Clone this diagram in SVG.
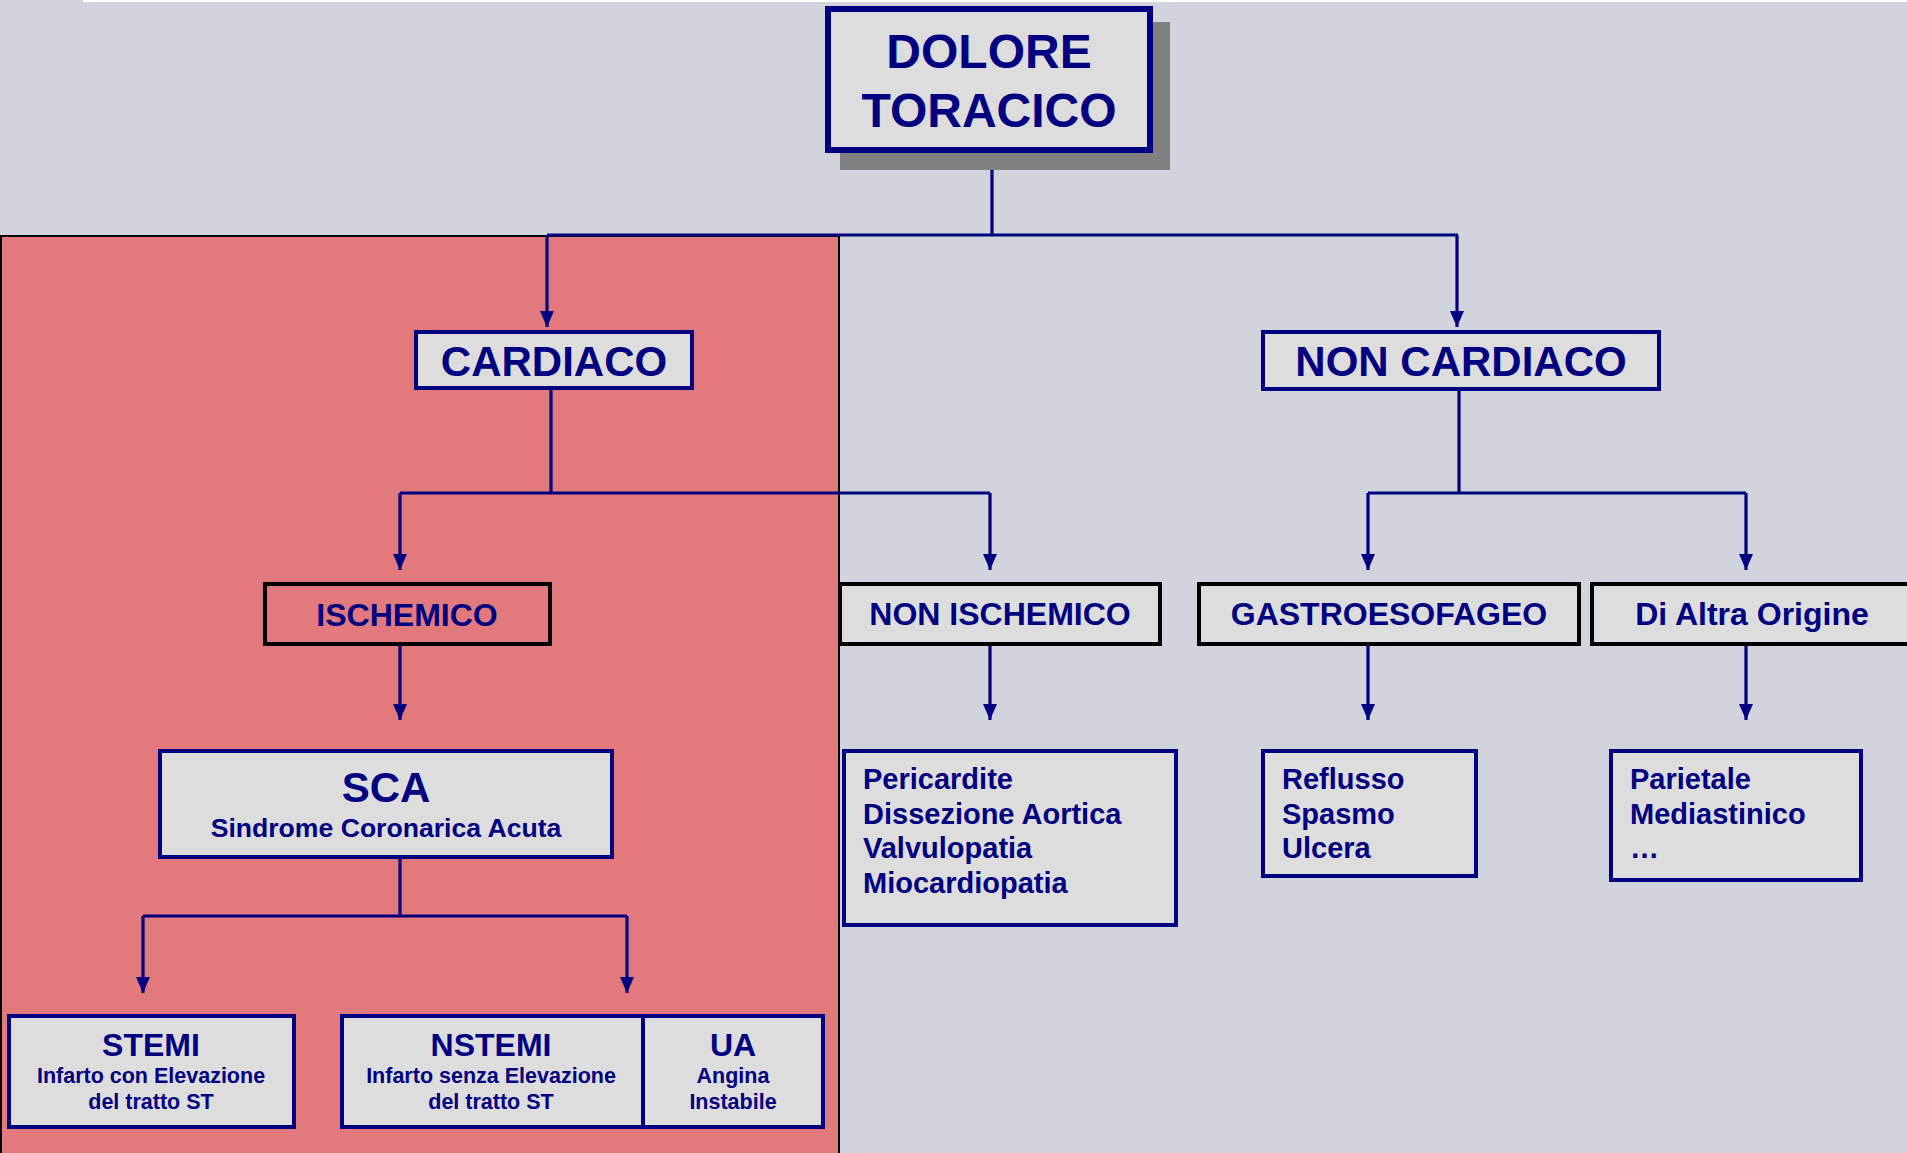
<svg xmlns="http://www.w3.org/2000/svg" width="1907" height="1153" viewBox="0 0 1907 1153">
  <style>
    .t { font-family: "Liberation Sans", Arial, sans-serif; font-weight: bold; fill: #000080; }
    .c { text-anchor: middle; }
    .box { fill: #DDDDDD; stroke: #000080; stroke-width: 4; }
    .boxk { fill: #DDDDDD; stroke: #000000; stroke-width: 4; }
    .link { fill: none; stroke: #000080; stroke-width: 3.2; }
    .arr { marker-end: url(#head); }
  </style>
  <defs>
    <marker id="head" markerUnits="userSpaceOnUse" markerWidth="16" markerHeight="14" refX="16" refY="7" orient="auto">
      <path d="M0,0 L16,7 L0,14 z" fill="#000080"/>
    </marker>
  </defs>

  <!-- page background -->
  <rect x="0" y="0" width="1907" height="1153" fill="#D1D4DC"/>
  <rect x="83" y="0" width="1824" height="2" fill="#FFFFFF"/>

  <!-- cardiac area -->
  <rect x="1" y="236" width="838" height="930" fill="#E27A7D" stroke="#000000" stroke-width="2"/>

  <!-- connectors -->
  <g id="connectors">
    <path class="link" d="M992,153 V235 M547,235 H1458"/>
    <path class="link arr" d="M547,235 V327"/>
    <path class="link arr" d="M1457,235 V327"/>

    <path class="link" d="M551,389 V493 M400,493 H990"/>
    <path class="link arr" d="M400,493 V570"/>
    <path class="link arr" d="M990,493 V570"/>

    <path class="link" d="M1459,390 V493 M1368,493 H1746"/>
    <path class="link arr" d="M1368,493 V570"/>
    <path class="link arr" d="M1746,493 V570"/>

    <path class="link arr" d="M400,645 V720"/>
    <path class="link arr" d="M990,645 V720"/>
    <path class="link arr" d="M1368,645 V720"/>
    <path class="link arr" d="M1746,645 V720"/>

    <path class="link" d="M400,858 V916 M143,916 H627"/>
    <path class="link arr" d="M143,916 V993"/>
    <path class="link arr" d="M627,916 V993"/>
  </g>

  <!-- root -->
  <g id="dolore-toracico">
    <rect x="840" y="22" width="330" height="148" fill="#808080"/>
    <rect x="828" y="9" width="322" height="141" fill="#DDDDDD" stroke="#000080" stroke-width="6"/>
    <text class="t c" x="989" y="68" font-size="48">DOLORE</text>
    <text class="t c" x="989" y="127" font-size="48">TORACICO</text>
  </g>

  <g id="cardiaco">
    <rect class="box" x="416" y="332" width="276" height="56"/>
    <text class="t c" x="554" y="376" font-size="42">CARDIACO</text>
  </g>

  <g id="non-cardiaco">
    <rect class="box" x="1263" y="332" width="396" height="57"/>
    <text class="t c" x="1461" y="376" font-size="42">NON CARDIACO</text>
  </g>

  <g id="ischemico">
    <rect x="265" y="584" width="285" height="60" fill="none" stroke="#000000" stroke-width="4"/>
    <text class="t c" x="407" y="626" font-size="32">ISCHEMICO</text>
  </g>

  <g id="non-ischemico">
    <rect class="boxk" x="840" y="584" width="320" height="60"/>
    <text class="t c" x="1000" y="625" font-size="32">NON ISCHEMICO</text>
  </g>

  <g id="gastroesofageo">
    <rect class="boxk" x="1199" y="584" width="380" height="60"/>
    <text class="t c" x="1389" y="625" font-size="32">GASTROESOFAGEO</text>
  </g>

  <g id="altra-origine">
    <rect class="boxk" x="1592" y="584" width="330" height="60"/>
    <text class="t c" x="1752" y="625" font-size="32">Di Altra Origine</text>
  </g>

  <g id="sca">
    <rect class="box" x="160" y="751" width="452" height="106"/>
    <text class="t c" x="386" y="802" font-size="42">SCA</text>
    <text class="t c" x="386" y="837" font-size="26.6">Sindrome Coronarica Acuta</text>
  </g>

  <g id="stemi">
    <rect class="box" x="9" y="1016" width="285" height="111"/>
    <text class="t c" x="151" y="1056" font-size="32">STEMI</text>
    <text class="t c" x="151" y="1083" font-size="21.5">Infarto con Elevazione</text>
    <text class="t c" x="151" y="1109" font-size="21.5">del tratto ST</text>
  </g>

  <g id="nstemi">
    <rect class="box" x="342" y="1016" width="301" height="111"/>
    <text class="t c" x="491" y="1056" font-size="32">NSTEMI</text>
    <text class="t c" x="491" y="1083" font-size="21.5">Infarto senza Elevazione</text>
    <text class="t c" x="491" y="1109" font-size="21.5">del tratto ST</text>
  </g>

  <g id="ua">
    <rect class="box" x="643" y="1016" width="180" height="111"/>
    <text class="t c" x="733" y="1056" font-size="32">UA</text>
    <text class="t c" x="733" y="1083" font-size="21.5">Angina</text>
    <text class="t c" x="733" y="1109" font-size="21.5">Instabile</text>
  </g>

  <g id="non-ischemico-cause">
    <rect class="box" x="844" y="751" width="332" height="174"/>
    <text class="t" x="863" y="789" font-size="29">Pericardite</text>
    <text class="t" x="863" y="824" font-size="29">Dissezione Aortica</text>
    <text class="t" x="863" y="858" font-size="29">Valvulopatia</text>
    <text class="t" x="863" y="893" font-size="29">Miocardiopatia</text>
  </g>

  <g id="gastro-cause">
    <rect class="box" x="1263" y="751" width="213" height="125"/>
    <text class="t" x="1282" y="789" font-size="29">Reflusso</text>
    <text class="t" x="1282" y="824" font-size="29">Spasmo</text>
    <text class="t" x="1282" y="858" font-size="29">Ulcera</text>
  </g>

  <g id="altra-cause">
    <rect class="box" x="1611" y="751" width="250" height="129"/>
    <text class="t" x="1630" y="789" font-size="29">Parietale</text>
    <text class="t" x="1630" y="824" font-size="29">Mediastinico</text>
    <text class="t" x="1630" y="858" font-size="29">…</text>
  </g>
</svg>
